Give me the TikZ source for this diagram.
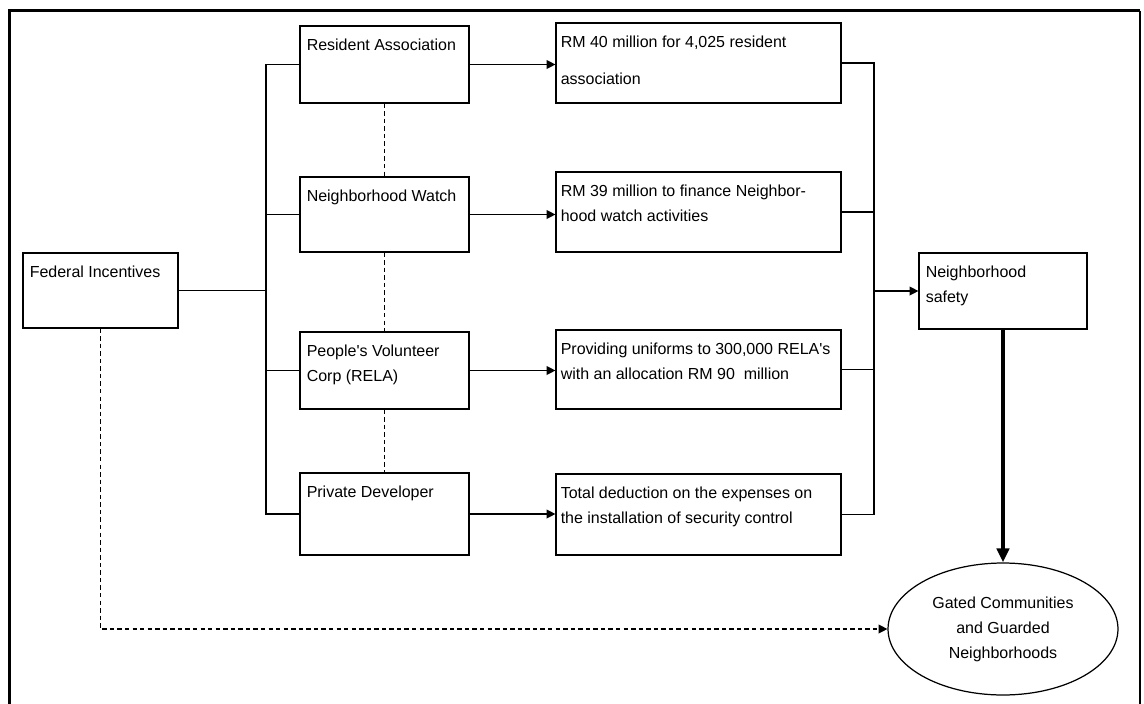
\documentclass[tikz,border=0pt]{standalone}
\usepackage{fontspec}
\setmainfont{Liberation Sans}[Ligatures=TeXOff]
\usetikzlibrary{arrows.meta, shapes.geometric, calc}

\tikzset{
  box/.style={draw, line width=0.7pt, inner sep=0pt},
  txt/.style={anchor=north west, inner sep=0pt, align=left, font=\fontsize{9.1}{14.2}\selectfont},
  link/.style={line width=0.7pt},
  tip/.style={-{Triangle[length=5pt, width=5pt]}},
  dashline/.style={dash pattern=on 2.5pt off 1.8pt}
}

\begin{document}
\begin{tikzpicture}[x=0.02cm, y=-0.02cm]
        \useasboundingbox (0,0) rectangle (1144,704);
        % frame
        \draw[line width=1.7pt] (9.7,704) -- (9.7,10.5) -- (1140,10.5);
        \draw[line width=0.8pt] (1140,10.5) -- (1140,704);
        % middle column
        \foreach \n/\cy/\h in {ra/64.5/1.54cm, nw/214.5/1.5cm, pvc/370.5/1.54cm, pd/514/1.64cm} {
          \node[box, minimum width=3.38cm, minimum height=\h] (\n) at (384.5,\cy) {};
        }
        \foreach \n/\t in {ra/{Resident Association}, nw/{Neighborhood Watch},
                           pvc/{People's Volunteer\\Corp (RELA)}, pd/{Private Developer}} {
          \node[txt] (\n-t) at ([shift={(7,13)}]\n.north west) {\t};
        }
        % right column
        \foreach \n/\cy/\h in {rm40/63/1.6cm, rm39/212/1.6cm, prov/369.5/1.58cm, tot/514.5/1.62cm} {
          \node[box, minimum width=5.7cm, minimum height=\h] (\n) at (698.5,\cy) {};
        }
        \foreach \n/\t in {rm40/{RM 40 million for 4,025 resident\\[6.8pt]association},
                           rm39/{RM 39 million to finance Neighbor-\\hood watch activities},
                           prov/{Providing uniforms to 300,000 RELA's\\with an allocation RM 90\ \ million},
                           tot/{Total deduction on the expenses on\\the installation of security control}} {
          \node[txt] (\n-t) at ([shift={(5,13)}]\n.north west) {\t};
        }
        % outer nodes
        \node[box, minimum width=3.1cm, minimum height=1.5cm] (fi) at (100.5,290.5) {};
        \node[txt] (fi-t) at ([shift={(7,13)}]fi.north west) {Federal Incentives};
        \node[box, minimum width=3.36cm, minimum height=1.52cm] (ns) at (1003,291) {};
        \node[txt] (ns-t) at ([shift={(7,13)}]ns.north west) {Neighborhood\\safety};
        \node[draw, ellipse, line width=0.7pt, minimum width=4.6cm, minimum height=2.64cm,
              inner sep=0pt, align=center, font=\fontsize{9.1}{14.2}\selectfont] (gc) at (1003,629)
              {Gated Communities\\and Guarded\\Neighborhoods};
        % trunks
        \coordinate (tl) at (266,0);
        \coordinate (tr) at (874,0);
        \draw[link] (ra.west) -- (ra.west -| tl) -- (pd.west -| tl) -- (pd.west);
        \foreach \n in {nw, pvc} \draw[link] (\n.west) -- (\n.west -| tl);
        \draw[link] (fi.east) -- (fi.east -| tl);
        \foreach \a/\b in {ra/rm40, nw/rm39, pvc/prov, pd/tot} {
          \draw[link, tip] (\a.east) -- (\a.east -| \b.west);
        }
        \draw[link] (rm40.east) -- (rm40.east -| tr) -- (tot.east -| tr) -- (tot.east);
        \foreach \n in {rm39, prov} \draw[link] (\n.east) -- (\n.east -| tr);
        \draw[link, tip] (ns.west -| tr) -- (ns.west);
        % dashed links
        \foreach \a/\b in {ra/nw, nw/pvc, pvc/pd} \draw[link, dashline] (\a.south) -- (\b.north);
        \draw[link, dashline, tip] (fi.south) |- (gc.west);
        \draw[line width=2.3pt, -{Triangle[length=8pt, width=7pt]}] (ns.south) -- (gc.north);
      \end{tikzpicture}
\end{document}
